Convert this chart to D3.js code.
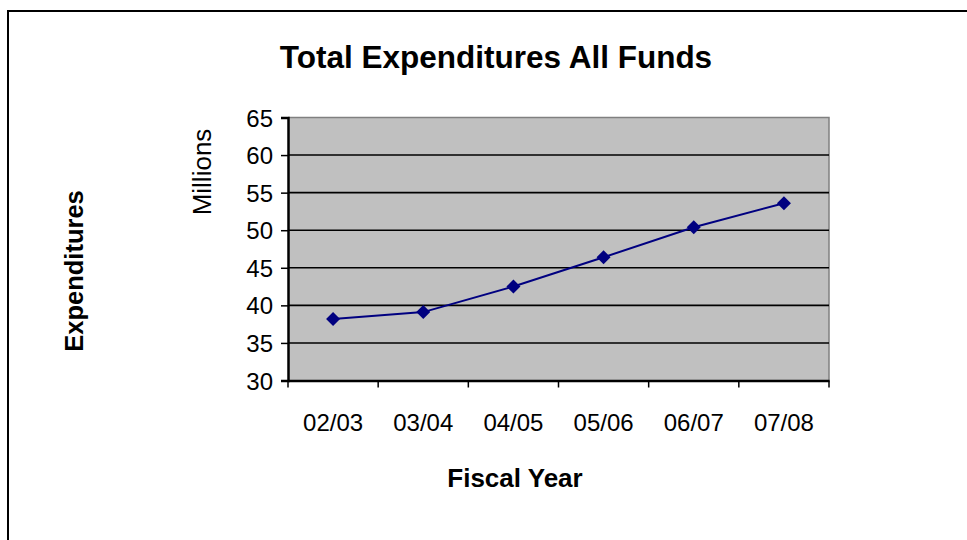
<!DOCTYPE html>
<html><head><meta charset="utf-8">
<script src="https://cdn.jsdelivr.net/npm/d3@7"></script>
<style>body{margin:0;background:#fff}svg{display:block}text{font-family:"Liberation Sans",Arial,sans-serif;fill:#000}</style>
</head><body><svg id="c" width="967" height="540"></svg>
<script>
const categories = ["02/03","03/04","04/05","05/06","06/07","07/08"];
const values = [38.2, 39.1, 42.5, 46.4, 50.4, 53.6];
const yTicks = [30,35,40,45,50,55,60,65];

const svg = d3.select("#c");
// outer frame
svg.append("path").attr("d","M8,540 V11 H967").attr("fill","none").attr("stroke","#000").attr("stroke-width",2);

const L=288, R=829, T=117.5, B=380.5;
const x = d3.scaleBand().domain(categories).range([L,R]);
const y = d3.scaleLinear().domain([30,65]).range([B,T]);

svg.append("rect").attr("x",L).attr("y",T).attr("width",R-L).attr("height",B-T).attr("fill","#c0c0c0");
svg.append("path").attr("d",`M${L},${T} H${R} V${B}`).attr("fill","none").attr("stroke","#808080").attr("stroke-width",1.5);

// gridlines
svg.append("g").selectAll("line").data(yTicks.filter(v=>v>30&&v<65)).join("line")
  .attr("x1",L).attr("x2",R).attr("y1",d=>y(d)).attr("y2",d=>y(d)).attr("stroke","#000").attr("stroke-width",1.6);

// y axis
const ya = svg.append("g").attr("transform",`translate(${L},0)`)
  .call(d3.axisLeft(y).tickValues(yTicks).tickSize(7).tickPadding(8).tickFormat(d3.format("d")));
ya.select(".domain").attr("stroke","#000").attr("stroke-width",2.5);
ya.selectAll(".tick line").attr("stroke","#000").attr("stroke-width",1.5);
ya.selectAll(".tick text").attr("font-size",24).attr("font-family","Liberation Sans, Arial, sans-serif").attr("fill","#000").attr("dy","0.36em");

// x axis
const xa = svg.append("g").attr("transform",`translate(0,${B})`)
  .call(d3.axisBottom(x).tickSize(0).tickPadding(0));
xa.select(".domain").attr("stroke","#000").attr("stroke-width",2.5);
xa.selectAll(".tick text").attr("font-size",24).attr("font-family","Liberation Sans, Arial, sans-serif").attr("fill","#000").attr("dy",null).attr("y",50);
// x tick marks at band boundaries
const bounds = categories.map(c=>x(c)).concat([R]);
svg.append("g").selectAll("line").data(bounds).join("line")
  .attr("x1",d=>d).attr("x2",d=>d).attr("y1",B).attr("y2",B+7).attr("stroke","#000").attr("stroke-width",1.5);

// line
const cx = d=>x(d)+x.bandwidth()/2;
svg.append("path").datum(values)
  .attr("d",d3.line().x((d,i)=>cx(categories[i])).y(d=>y(d)))
  .attr("fill","none").attr("stroke","#000080").attr("stroke-width",2);
const squareDiamond = {draw(ctx,size){const r=Math.sqrt(size/2);ctx.moveTo(0,-r);ctx.lineTo(r,0);ctx.lineTo(0,r);ctx.lineTo(-r,0);ctx.closePath();}};
svg.append("g").selectAll("path").data(values).join("path")
  .attr("d",d3.symbol(squareDiamond,98))
  .attr("transform",(d,i)=>`translate(${cx(categories[i])},${y(d)})`)
  .attr("fill","#000080");

// texts
svg.append("text").attr("x",496).attr("y",68).attr("text-anchor","middle").attr("font-size",31.5).attr("font-weight","bold").text("Total Expenditures All Funds");
svg.append("text").attr("x",515).attr("y",487).attr("text-anchor","middle").attr("font-size",26).attr("font-weight","bold").text("Fiscal Year");
svg.append("text").attr("transform","translate(83,271) rotate(-90)").attr("text-anchor","middle").attr("font-size",25.5).attr("font-weight","bold").text("Expenditures");
svg.append("text").attr("transform","translate(211,172) rotate(-90)").attr("text-anchor","middle").attr("font-size",26).text("Millions");
</script></body></html>
